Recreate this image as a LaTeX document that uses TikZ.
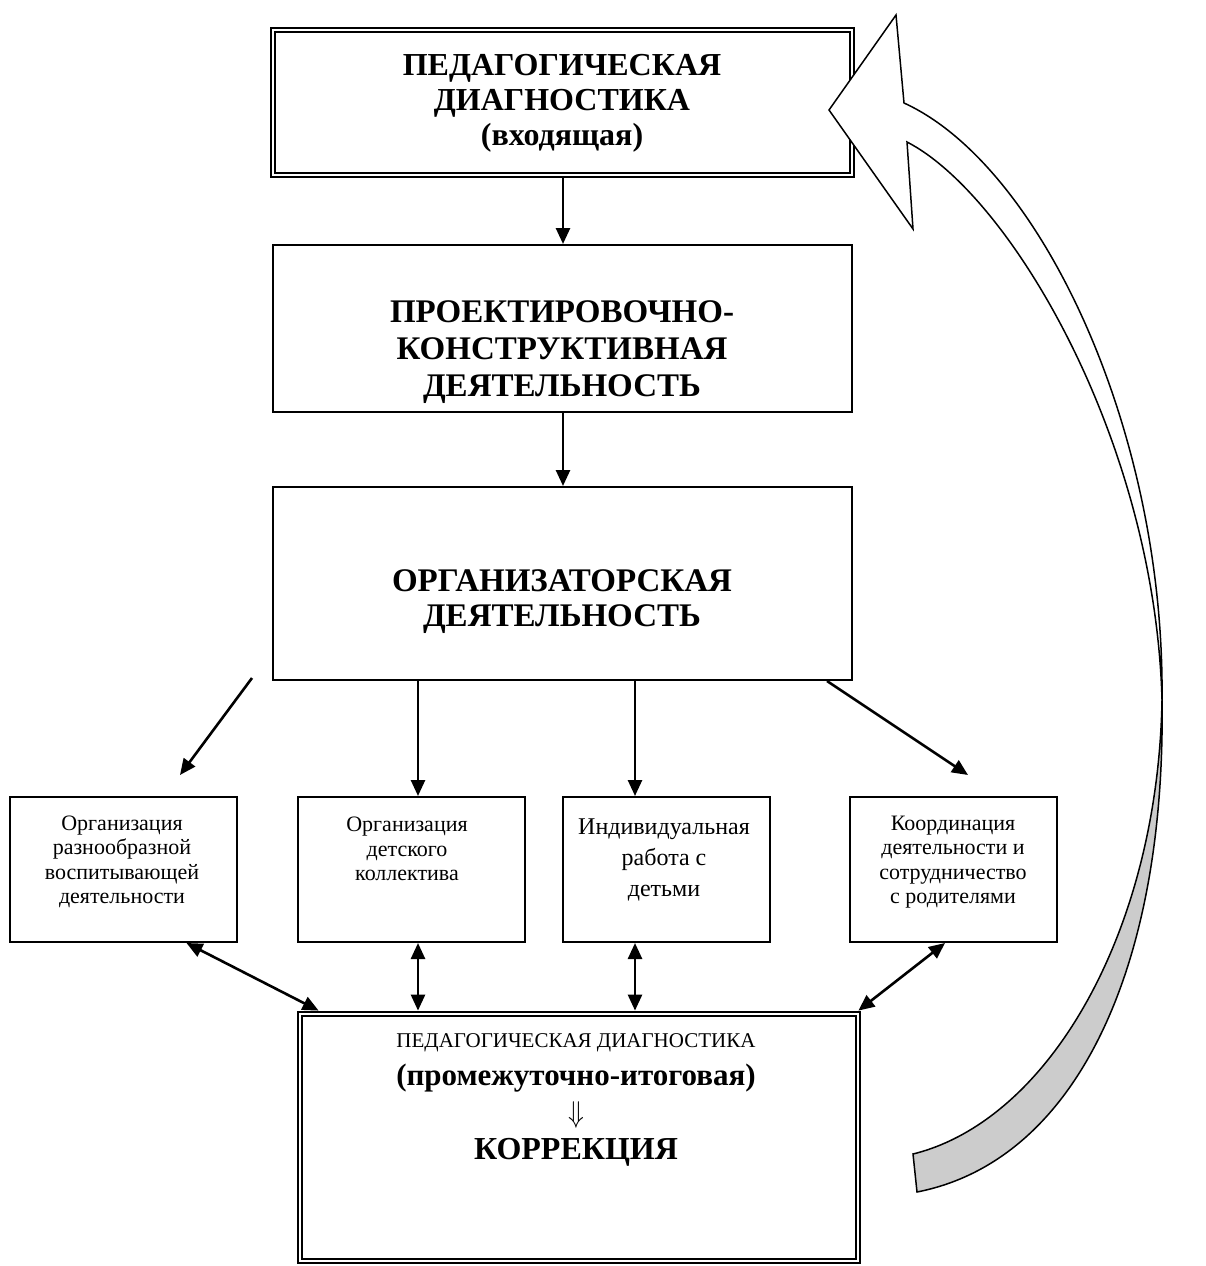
\documentclass[tikz,border=0pt]{standalone}
\usepackage{fontspec}
\usepackage{graphicx}
\setmainfont{Liberation Serif}
\usetikzlibrary{arrows.meta}
\definecolor{ribbon}{RGB}{204,204,204}
\begin{document}
\begin{tikzpicture}[x=1pt,y=-1pt,
  box/.style={draw=black, line width=2pt, inner sep=0pt},
  dbl/.style={draw=black, line width=2.8pt, inner sep=0pt},
  innerline/.style={draw=black, line width=1.3pt},
  arr/.style={line width=2.6pt, -{Triangle[length=16pt,width=14pt]}},
  darr/.style={line width=2.6pt, {Triangle[length=16pt,width=14pt]}-{Triangle[length=16pt,width=14pt]}},
  bigtxt/.style={font=\bfseries\fontsize{33}{36}\selectfont, align=center, inner sep=0pt},
  smalltxt/.style={font=\fontsize{22}{24.5}\selectfont, align=center, inner sep=0pt},
  ribbonline/.style={draw=black, line width=1.5pt, line join=miter},
]
\useasboundingbox[fill=white] (0,0) rectangle (1205,1266);

% main boxes
\node[dbl, minimum width=583pt, minimum height=149pt] (top) at (562.5,102.5) {};
\draw[innerline] ([shift={(5.5,5.5)}]top.north west) rectangle ([shift={(-5.5,-5.5)}]top.south east);
\node[box, minimum width=579pt, minimum height=167pt] (proj) at (562.5,328.5) {};
\node[box, minimum width=579pt, minimum height=193pt] (org) at (562.5,583.5) {};

% small boxes
\node[box, minimum width=227pt, minimum height=145pt] (s1) at (123.5,869.5) {};
\node[box, minimum width=227pt, minimum height=145pt] (s2) at (411.5,869.5) {};
\node[box, minimum width=207pt, minimum height=145pt] (s3) at (666.5,869.5) {};
\node[box, minimum width=207pt, minimum height=145pt] (s4) at (953.5,869.5) {};

% bottom box
\node[dbl, minimum width=562pt, minimum height=251pt] (bot) at (579,1137.5) {};
\draw[innerline] ([shift={(5.5,5.5)}]bot.north west) rectangle ([shift={(-5.5,-5.5)}]bot.south east);

% texts
\node[bigtxt, font=\bfseries\fontsize{32}{35}\selectfont] (ttop) at (562,103) {ПЕДАГОГИЧЕСКАЯ\\ДИАГНОСТИКА\\(входящая)};
\node[bigtxt, font=\bfseries\fontsize{33}{37}\selectfont] (tproj) at (562,352) {ПРОЕКТИРОВОЧНО-\\КОНСТРУКТИВНАЯ\\ДЕЯТЕЛЬНОСТЬ};
\node[bigtxt, font=\bfseries\fontsize{33}{35}\selectfont] (torg) at (562,602) {ОРГАНИЗАТОРСКАЯ\\ДЕЯТЕЛЬНОСТЬ};
\node[smalltxt] (t1) at (122,862) {Организация\\разнообразной\\воспитывающей\\деятельности};
\node[smalltxt] (t2) at (407,849) {Организация\\детского\\коллектива};
\node[smalltxt, font=\fontsize{24}{31}\selectfont] (t3) at (664,860) {Индивидуальная\\работа с\\детьми};
\node[smalltxt] (t4) at (953,862) {Координация\\деятельности и\\сотрудничество\\с родителями};
\node[inner sep=0pt, font=\fontsize{21}{24}\selectfont] (b1) at (576,1043) {ПЕДАГОГИЧЕСКАЯ ДИАГНОСТИКА};
\node[inner sep=0pt, font=\bfseries\fontsize{31}{34}\selectfont] (b2) at (576,1078) {(промежуточно-итоговая)};
\node[inner sep=0pt] (b3) at (576,1115) {\scalebox{1.25}[1.45]{\fontsize{20}{20}\selectfont$\Downarrow$}};
\node[inner sep=0pt, font=\bfseries\fontsize{32}{35}\selectfont] (b4) at (576,1152) {КОРРЕКЦИЯ};

% arrows
\draw[arr] ([xshift=0.5pt]top.south) -- ([xshift=0.5pt]proj.north);
\draw[arr] ([xshift=0.5pt]proj.south) -- ([xshift=0.5pt]org.north);
\coordinate (dlA) at (252,678);
\coordinate (dlB) at (180,775);
\draw[arr] (dlA) -- (dlB);
\draw[arr] ([xshift=6.5pt]s2.north |- org.south) -- ([xshift=6.5pt]s2.north);
\draw[arr] ([xshift=-31.5pt]s3.north |- org.south) -- ([xshift=-31.5pt]s3.north);
\coordinate (drB) at (968,775);
\draw[arr] ([xshift=264.5pt]org.south) -- (drB);

\draw[darr] ([xshift=63pt]s1.south) -- ([xshift=22pt]bot.north west);
\draw[darr] ([xshift=6.5pt]s2.south) -- ([xshift=6.5pt]s2.south |- bot.north);
\draw[darr] ([xshift=-31.5pt]s3.south) -- ([xshift=-31.5pt]s3.south |- bot.north);
\draw[darr] ([xshift=-8.5pt]s4.south) -- ([xshift=-3pt]bot.north east);

% curved return arrow
\coordinate (N1) at (904,103);
\coordinate (N2) at (907,142);
\coordinate (X) at (1162,700);
\coordinate (T1) at (913,1154);
\coordinate (T2) at (917,1192);
\draw[ribbonline, fill=ribbon] (X) .. controls (1166,960) and (1080,1160) .. (T2) -- (T1) .. controls (1050,1120) and (1158,930) .. (X) -- cycle;
\draw[ribbonline, fill=white] (N1) -- (896,15) -- (829,110) -- (913,229) -- (N2) .. controls (1010,195) and (1155,440) .. (X) .. controls (1165,430) and (1040,165) .. (N1) -- cycle;
\end{tikzpicture}
\end{document}
